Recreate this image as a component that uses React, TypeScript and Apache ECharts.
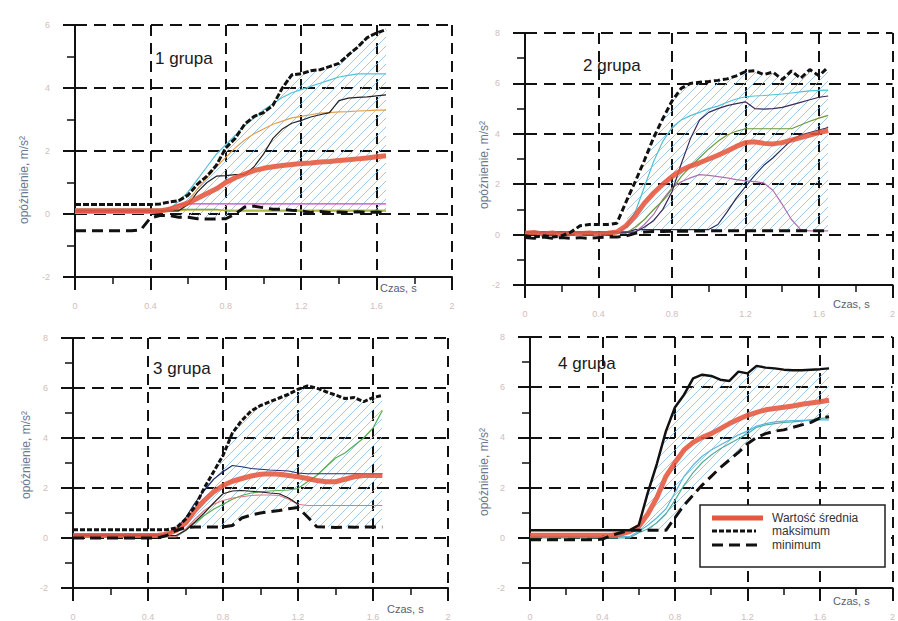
import React, { useEffect, useRef } from 'react';
import * as echarts from 'echarts';

// time axis (s)
const time = [0, 0.05, 0.1, 0.15, 0.2, 0.25, 0.3, 0.35, 0.4, 0.45, 0.5, 0.55, 0.6, 0.65, 0.7, 0.75, 0.8, 0.85, 0.9, 0.95, 1.0, 1.05, 1.1, 1.15, 1.2, 1.25, 1.3, 1.35, 1.4, 1.45, 1.5, 1.55, 1.6, 1.65];

const panelTitles = ['1 grupa', '2 grupa', '3 grupa', '4 grupa'];
const xTicks = { min: 0, max: 2, interval: 0.4 };
const yMaxes = [6, 8, 8, 8];
const legendNames = ['Wartość średnia', 'maksimum', 'minimum'];
const yName = 'opóźnienie, m/s²';
const xName = 'Czas, s';

// ---- panel 1 ----
const p1Max = [0.3, 0.3, 0.3, 0.3, 0.3, 0.3, 0.3, 0.3, 0.3, 0.32, 0.38, 0.42, 0.6, 0.95, 1.2, 1.55, 2.1, 2.4, 2.85, 3.1, 3.22, 3.45, 4.0, 4.42, 4.45, 4.55, 4.58, 4.68, 4.78, 5.05, 5.3, 5.6, 5.75, 5.85];
const p1Min = [-0.53, -0.53, -0.53, -0.53, -0.53, -0.53, -0.53, -0.5, -0.12, -0.05, -0.05, -0.1, -0.1, -0.15, -0.16, -0.16, -0.15, 0.0, 0.22, 0.25, 0.2, 0.15, 0.15, 0.12, 0.1, 0.05, 0.08, 0.05, 0.06, 0.05, 0.07, 0.05, 0.06, 0.05];
const p1Mean = [0.1, 0.1, 0.1, 0.1, 0.1, 0.1, 0.1, 0.1, 0.1, 0.1, 0.15, 0.25, 0.35, 0.5, 0.65, 0.8, 1.0, 1.15, 1.27, 1.38, 1.45, 1.5, 1.54, 1.57, 1.6, 1.62, 1.65, 1.67, 1.7, 1.72, 1.75, 1.78, 1.82, 1.85];
const p1Cyan = [0.15, 0.15, 0.15, 0.15, 0.15, 0.15, 0.15, 0.15, 0.15, 0.15, 0.15, 0.4, 0.7, 1.1, 1.5, 1.9, 2.2, 2.5, 2.8, 3.05, 3.3, 3.5, 3.7, 3.85, 3.95, 4.05, 4.15, 4.25, 4.35, 4.4, 4.45, 4.45, 4.45, 4.45];
const p1Black = [0.1, 0.1, 0.1, 0.1, 0.1, 0.1, 0.1, 0.1, 0.1, 0.1, 0.1, 0.1, 0.3, 0.7, 1.0, 1.2, 1.22, 1.25, 1.25, 1.5, 1.9, 2.4, 2.7, 2.88, 2.97, 3.08, 3.15, 3.22, 3.6, 3.68, 3.7, 3.72, 3.75, 3.78];
const p1Orange = [0.1, 0.1, 0.1, 0.1, 0.1, 0.1, 0.1, 0.1, 0.1, 0.1, 0.1, 0.1, 0.4, 0.8, 1.15, 1.5, 1.8, 2.1, 2.35, 2.55, 2.7, 2.85, 2.95, 3.05, 3.1, 3.15, 3.2, 3.22, 3.24, 3.25, 3.27, 3.28, 3.3, 3.3];
const p1Magenta = [0.05, 0.05, 0.05, 0.05, 0.05, 0.05, 0.05, 0.05, 0.05, 0.05, 0.2, 0.3, 0.32, 0.32, 0.32, 0.32, 0.32, 0.32, 0.32, 0.32, 0.32, 0.32, 0.32, 0.32, 0.32, 0.32, 0.32, 0.32, 0.32, 0.32, 0.32, 0.32, 0.32, 0.32];
const p1Green = [0.15, 0.15, 0.15, 0.15, 0.15, 0.15, 0.15, 0.15, 0.15, 0.15, 0.15, 0.15, 0.15, 0.15, 0.15, 0.15, 0.1, 0.1, 0.1, 0.1, 0.1, 0.1, 0.1, 0.1, 0.1, 0.1, 0.1, 0.1, 0.1, 0.1, 0.1, 0.1, 0.1, 0.1];
const p1Yellow = [0.02, 0.02, 0.02, 0.02, 0.02, 0.02, 0.02, 0.02, 0.02, 0.05, 0.08, 0.1, 0.12, 0.12, 0.12, 0.12, 0.12, 0.12, 0.12, 0.12, 0.12, 0.12, 0.12, 0.12, 0.12, 0.12, 0.12, 0.12, 0.12, 0.12, 0.12, 0.12, 0.12, 0.12];

// ---- panel 2 ----
const p2Max = [-0.05, -0.1, -0.05, -0.1, -0.05, 0.1, 0.35, 0.4, 0.4, 0.4, 0.45, 1.3, 2.1, 2.95, 3.85, 4.6, 5.3, 5.8, 6.0, 6.05, 6.08, 6.12, 6.18, 6.3, 6.47, 6.5, 6.35, 6.45, 6.15, 6.5, 6.2, 6.55, 6.3, 6.65];
const p2Min = [-0.12, -0.15, -0.1, -0.15, -0.12, -0.15, -0.12, -0.15, -0.12, -0.1, -0.1, -0.05, 0.05, 0.1, 0.12, 0.12, 0.13, 0.13, 0.14, 0.14, 0.15, 0.15, 0.15, 0.15, 0.15, 0.15, 0.15, 0.15, 0.15, 0.15, 0.15, 0.15, 0.15, 0.15];
const p2Mean = [0.05, 0.08, 0.02, 0.06, 0.0, 0.05, 0.03, 0.06, 0.02, 0.05, 0.1, 0.35, 0.75, 1.25, 1.65, 2.0, 2.3, 2.55, 2.72, 2.85, 3.0, 3.15, 3.32, 3.5, 3.65, 3.68, 3.62, 3.6, 3.65, 3.75, 3.85, 3.95, 4.05, 4.13];
const p2Cyan = [0.05, 0.05, 0.05, 0.05, 0.05, 0.05, 0.05, 0.05, 0.05, 0.05, 0.05, 0.3, 0.9, 1.9, 2.9, 3.7, 4.25, 4.55, 4.72, 4.85, 5.0, 5.1, 5.25, 5.38, 5.47, 5.5, 5.52, 5.55, 5.58, 5.62, 5.66, 5.7, 5.72, 5.73];
const p2Purple = [0.1, 0.1, 0.1, 0.1, 0.1, 0.1, 0.1, 0.1, 0.1, 0.1, 0.1, 0.1, 0.1, 0.3, 0.55, 1.0, 1.7, 2.8, 3.8, 4.55, 4.85, 5.0, 5.12, 5.2, 5.27, 5.0, 4.98, 5.0, 5.05, 5.15, 5.25, 5.35, 5.45, 5.5];
const p2Olive = [0.05, 0.05, 0.05, 0.05, 0.05, 0.05, 0.05, 0.05, 0.05, 0.05, 0.05, 0.05, 0.3, 0.6, 1.0, 1.35, 1.8, 2.3, 2.7, 3.05, 3.4, 3.7, 3.95, 4.1, 4.2, 4.2, 4.2, 4.2, 4.2, 4.2, 4.35, 4.5, 4.62, 4.73];
const p2Late = [0.1, 0.1, 0.1, 0.1, 0.1, 0.1, 0.1, 0.1, 0.1, 0.1, 0.1, 0.1, 0.2, 0.2, 0.2, 0.2, 0.2, 0.2, 0.2, 0.2, 0.2, 0.4, 0.9, 1.45, 1.9, 2.35, 2.75, 3.05, 3.4, 3.75, 3.95, 4.05, 4.15, 4.25];
const p2Mauve = [0.1, 0.1, 0.1, 0.1, 0.1, 0.1, 0.1, 0.1, 0.1, 0.1, 0.1, 0.1, 0.1, 0.4, 0.8, 1.4, 1.85, 2.1, 2.25, 2.38, 2.35, 2.3, 2.25, 2.18, 2.13, 2.1, 2.05, 1.75, 1.2, 0.6, 0.2, 0.15, 0.15, 0.15];

// ---- panel 3 ----
const p3Max = [0.33, 0.33, 0.33, 0.33, 0.33, 0.33, 0.33, 0.33, 0.33, 0.33, 0.33, 0.4, 0.75, 1.25, 2.0, 2.65, 3.3, 4.2, 4.7, 5.08, 5.3, 5.45, 5.6, 5.75, 5.95, 6.08, 6.0, 5.85, 5.72, 5.58, 5.62, 5.45, 5.62, 5.7];
const p3Min = [0.0, 0.0, 0.0, 0.0, 0.0, 0.0, 0.0, 0.0, 0.0, 0.0, 0.1, 0.3, 0.42, 0.44, 0.44, 0.44, 0.44, 0.5, 0.8, 0.92, 1.0, 1.05, 1.1, 1.17, 1.22, 0.85, 0.45, 0.44, 0.42, 0.44, 0.43, 0.44, 0.44, 0.44];
const p3Mean = [0.1, 0.1, 0.1, 0.1, 0.1, 0.1, 0.1, 0.1, 0.1, 0.1, 0.15, 0.3, 0.6, 1.1, 1.5, 1.84, 2.1, 2.27, 2.38, 2.48, 2.55, 2.57, 2.55, 2.5, 2.45, 2.38, 2.3, 2.25, 2.25, 2.35, 2.45, 2.5, 2.5, 2.5];
const p3Navy = [0.15, 0.15, 0.15, 0.15, 0.15, 0.15, 0.15, 0.15, 0.15, 0.15, 0.15, 0.35, 0.8, 1.4, 1.9, 2.35, 2.65, 2.9, 2.85, 2.78, 2.75, 2.72, 2.7, 2.68, 2.6, 2.57, 2.57, 2.57, 2.57, 2.57, 2.57, 2.57, 2.57, 2.57];
const p3Black = [0.1, 0.1, 0.1, 0.1, 0.1, 0.1, 0.1, 0.1, 0.1, 0.1, 0.1, 0.1, 0.3, 0.64, 1.0, 1.4, 1.77, 1.88, 1.9, 1.87, 1.84, 1.8, 1.77, 1.6, 1.35, null, null, null, null, null, null, null, null, null];
const p3Pink = [0.05, 0.05, 0.05, 0.05, 0.05, 0.05, 0.05, 0.05, 0.05, 0.05, 0.05, 0.05, 0.35, 0.75, 1.1, 1.35, 1.5, 1.6, 1.65, 1.7, 1.72, 1.72, 1.7, 1.55, 1.35, 1.3, 1.3, 1.3, 1.3, 1.3, 1.3, 1.3, 1.3, 1.3];
const p3Green = [0.05, 0.05, 0.05, 0.05, 0.05, 0.05, 0.05, 0.05, 0.05, 0.05, 0.05, 0.05, 0.3, 0.6, 0.9, 1.15, 1.35, 1.55, 1.7, 1.8, 1.85, 1.88, 1.9, 1.92, 1.98, 2.25, 2.5, 2.85, 3.2, 3.4, 3.7, 4.0, 4.4, 5.1];

// ---- panel 4 ----
const p4Max = [0.3, 0.3, 0.3, 0.3, 0.3, 0.3, 0.3, 0.3, 0.3, 0.3, 0.3, 0.3, 0.5, 1.8, 2.95, 4.25, 5.2, 5.7, 6.35, 6.5, 6.45, 6.3, 6.25, 6.62, 6.55, 6.85, 6.78, 6.75, 6.7, 6.68, 6.68, 6.7, 6.72, 6.75];
const p4Min = [-0.08, -0.08, -0.08, -0.08, -0.08, -0.08, -0.08, -0.08, -0.05, 0.1, 0.2, 0.3, 0.3, 0.3, 0.3, 0.3, 0.8, 1.3, 1.7, 2.1, 2.45, 2.8, 3.1, 3.4, 3.75, 4.0, 4.15, 4.25, 4.3, 4.4, 4.5, 4.6, 4.78, 4.82];
const p4Mean = [0.1, 0.1, 0.1, 0.1, 0.1, 0.1, 0.1, 0.1, 0.1, 0.1, 0.15, 0.25, 0.45, 0.95, 1.6, 2.45, 3.0, 3.5, 3.8, 4.0, 4.15, 4.35, 4.55, 4.72, 4.88, 5.0, 5.1, 5.15, 5.2, 5.25, 5.32, 5.37, 5.42, 5.48];
const p4Cyan = [0.05, 0.05, 0.05, 0.05, 0.05, 0.05, 0.05, 0.05, 0.05, 0.05, 0.05, 0.05, 0.25, 0.5, 0.8, 1.15, 1.8, 2.45, 2.9, 3.25, 3.5, 3.7, 3.9, 4.1, 4.25, 4.45, 4.55, 4.62, 4.65, 4.67, 4.68, 4.69, 4.7, 4.7];
const p4Teal = [0.0, 0.0, 0.0, 0.0, 0.0, 0.0, 0.0, 0.0, 0.0, 0.0, 0.0, 0.0, 0.2, 0.35, 0.6, 0.95, 1.5, 2.1, 2.6, 3.0, 3.3, 3.55, 3.75, 3.95, 4.15, 4.4, 4.5, 4.55, 4.6, 4.62, 4.65, 4.7, 4.75, 4.8];

// band (hatched) start time for each panel
const bandFrom = [0.55, 0.55, 0.6, 0.6];

const panels = [
  { max: p1Max, min: p1Min, mean: p1Mean, runs: [[p1Green, '#3aa04a'], [p1Yellow, '#c8b840'], [p1Magenta, '#d23fc0'], [p1Orange, '#e0a050'], [p1Black, '#222222'], [p1Cyan, '#4fc3d9']] },
  { max: p2Max, min: p2Min, mean: p2Mean, runs: [[p2Late, '#1f2f5f'], [p2Mauve, '#b070b0'], [p2Olive, '#6a9a3a'], [p2Purple, '#3a2a5a'], [p2Cyan, '#4fc3d9']] },
  { max: p3Max, min: p3Min, mean: p3Mean, runs: [[p3Green, '#50b050'], [p3Pink, '#e07a80'], [p3Black, '#222222'], [p3Navy, '#1f2f6f']] },
  { max: p4Max, min: p4Min, mean: p4Mean, runs: [[p4Teal, '#50b0a0'], [p4Cyan, '#5ab8e0']] },
];

const GRIDS = [
  { left: 75, top: 25, width: 377, height: 252 },
  { left: 525, top: 33, width: 377, height: 252 },
  { left: 73, top: 338, width: 375, height: 252 },
  { left: 530, top: 337, width: 375, height: 251 },
];

const maxLineTypes: any[] = [[6, 2], [6, 3], [5, 2], 'solid'];

function interpY(pts: number[][], x: number) {
  for (let m = 0; m < pts.length - 1; m++) {
    const a = pts[m];
    const b = pts[m + 1];
    if (x >= a[0] && x <= b[0]) {
      const d = b[0] - a[0] || 1;
      return a[1] + ((x - a[0]) / d) * (b[1] - a[1]);
    }
  }
  return pts[pts.length - 1][1];
}

function hatchSeries(i: number, p: any) {
  const from = bandFrom[i];
  const idx = time.map((_, k) => k).filter((k) => time[k] >= from - 1e-9);
  return {
    type: 'custom', name: 'band-' + i, xAxisIndex: i, yAxisIndex: i, silent: true, z: 1, clip: true,
    data: [[time[idx[0]], p.min[idx[0]]]],
    renderItem: (_params: any, api: any) => {
      const up = idx.map((k) => api.coord([time[k], p.max[k]]));
      const lo = idx.map((k) => api.coord([time[k], p.min[k]]));
      const xa = up[0][0];
      const xb = up[up.length - 1][0];
      const xs: number[] = [];
      for (let x = Math.ceil(xa); x <= Math.floor(xb); x++) xs.push(x);
      const yu = xs.map((x) => interpY(up, x));
      const yl = xs.map((x) => interpY(lo, x));
      let cMin = Infinity;
      let cMax = -Infinity;
      xs.forEach((x, n) => {
        cMin = Math.min(cMin, x + yu[n]);
        cMax = Math.max(cMax, x + yl[n]);
      });
      const gap = 9;
      const children: any[] = [];
      for (let c = Math.floor(cMin / gap) * gap; c <= cMax; c += gap) {
        let start = -1;
        for (let n = 0; n <= xs.length; n++) {
          const inside = n < xs.length && c - xs[n] >= yu[n] && c - xs[n] <= yl[n];
          if (inside && start < 0) start = n;
          if (!inside && start >= 0) {
            const x1 = xs[start];
            const x2 = xs[n - 1];
            if (x2 > x1) {
              children.push({ type: 'line', shape: { x1, y1: c - x1, x2, y2: c - x2 }, style: { stroke: '#8dbbe0', lineWidth: 0.8 } });
            }
            start = -1;
          }
        }
      }
      return { type: 'group', children };
    },
  };
}

export default function App() {
  const ref = useRef<HTMLDivElement>(null);
  useEffect(() => {
    if (!ref.current) return;
    const chart = echarts.init(ref.current, null, { renderer: 'svg' });
    const series: any[] = [];
    panels.forEach((p, i) => {
      series.push(hatchSeries(i, p));
      p.runs.forEach((r: any, j: number) => {
        series.push({
          type: 'line', name: 'run-' + i + '-' + j, xAxisIndex: i, yAxisIndex: i,
          data: time.map((t, k) => [t, r[0][k] == null ? '-' : r[0][k]]),
          symbol: 'none', lineStyle: { color: r[1], width: 1.2 }, z: 2,
        });
      });
      series.push({
        type: 'line', name: legendNames[0], xAxisIndex: i, yAxisIndex: i,
        data: time.map((t, k) => [t, p.mean[k]]), symbol: 'none',
        lineStyle: { color: '#e5573f', width: 5, opacity: 0.88 }, z: 3,
      });
      series.push({
        type: 'line', name: legendNames[1], xAxisIndex: i, yAxisIndex: i,
        data: time.map((t, k) => [t, p.max[k]]), symbol: 'none',
        lineStyle: { color: '#111', width: i === 3 ? 2.5 : 3, type: maxLineTypes[i] }, z: 4,
      });
      series.push({
        type: 'line', name: legendNames[2], xAxisIndex: i, yAxisIndex: i,
        data: time.map((t, k) => [t, p.min[k]]), symbol: 'none',
        lineStyle: { color: '#111', width: 3, type: [11, 6] }, z: 4,
      });
    });

    const tickLabel = { color: '#d2bcbc', fontSize: 9, fontFamily: 'Liberation Sans, Arial, sans-serif' };
    const xAxis = GRIDS.map((_g, i) => ({
      type: 'value', gridIndex: i, min: xTicks.min, max: xTicks.max, interval: xTicks.interval,
      axisLine: { onZero: false, lineStyle: { color: '#111', width: 2 } },
      axisTick: { length: 13, lineStyle: { color: '#111', width: 2 } },
      minorTick: { show: true, splitNumber: 2, length: 7, lineStyle: { color: '#111', width: 1.5 } },
      splitLine: { show: true, lineStyle: { color: '#111', width: 2, type: [11, 7] } },
      axisLabel: { margin: 24, ...tickLabel },
    }));
    const yAxis = GRIDS.map((_g, i) => ({
      type: 'value', gridIndex: i, min: -2, max: yMaxes[i], interval: 2,
      axisLine: { onZero: false, lineStyle: { color: '#111', width: 2 } },
      axisTick: { length: 12, lineStyle: { color: '#111', width: 2 } },
      minorTick: { show: true, splitNumber: 2, length: 8, lineStyle: { color: '#111', width: 1.5 } },
      splitLine: { show: true, lineStyle: { color: '#111', width: 2, type: [12, 7] } },
      axisLabel: { margin: 25, ...tickLabel },
    }));

    const titlePos = [[155, 58], [583, 65], [153, 368], [558, 363]];
    const yNamePos = [[24, 180], [484, 165], [26, 455], [484, 472]];
    const xNamePos = [[380, 288], [833, 304], [387, 609], [833, 601]];
    const graphic: any[] = [];
    panelTitles.forEach((t, i) => {
      graphic.push({ type: 'text', x: titlePos[i][0], y: titlePos[i][1], z: 50,
        style: { text: t, font: '17px "Liberation Sans", Arial, sans-serif', fill: '#1a1a1a', verticalAlign: 'middle', align: 'left' } });
      graphic.push({ type: 'text', x: yNamePos[i][0], y: yNamePos[i][1], rotation: Math.PI / 2, z: 50,
        style: { text: yName, font: '12px "Liberation Sans", Arial, sans-serif', fill: '#6a7890', align: 'center', verticalAlign: 'middle' } });
      graphic.push({ type: 'text', x: xNamePos[i][0], y: xNamePos[i][1], z: 50,
        style: { text: xName, font: '11px "Liberation Sans", Arial, sans-serif', fill: '#5a6070', align: 'left', verticalAlign: 'middle' } });
    });
    // legend box (panel 4)
    graphic.push({ type: 'rect', shape: { x: 700, y: 505, width: 185, height: 62 }, z: 60,
      style: { fill: '#ffffff', stroke: '#222', lineWidth: 1.5 } });
    graphic.push({ type: 'line', shape: { x1: 712, y1: 518, x2: 763, y2: 518 }, z: 61,
      style: { stroke: '#e5573f', lineWidth: 5 } });
    graphic.push({ type: 'line', shape: { x1: 712, y1: 531, x2: 756, y2: 531 }, z: 61,
      style: { stroke: '#111', lineWidth: 3, lineDash: [5, 2] } });
    graphic.push({ type: 'line', shape: { x1: 712, y1: 545, x2: 763, y2: 545 }, z: 61,
      style: { stroke: '#111', lineWidth: 3, lineDash: [11, 6] } });
    const legY = [518, 531, 545];
    legendNames.forEach((n, k) => {
      graphic.push({ type: 'text', x: 772, y: legY[k], z: 61,
        style: { text: n, font: '12px "Liberation Sans", Arial, sans-serif', fill: '#333', verticalAlign: 'middle', align: 'left' } });
    });

    chart.setOption({
      animation: false,
      backgroundColor: '#ffffff',
      grid: GRIDS.map((g) => ({ ...g, containLabel: false })),
      xAxis,
      yAxis,
      series,
      graphic,
    });
    return () => chart.dispose();
  }, []);
  return <div ref={ref} style={{ position: 'absolute', left: 0, top: 0, width: 898, height: 621 }} />;
}
